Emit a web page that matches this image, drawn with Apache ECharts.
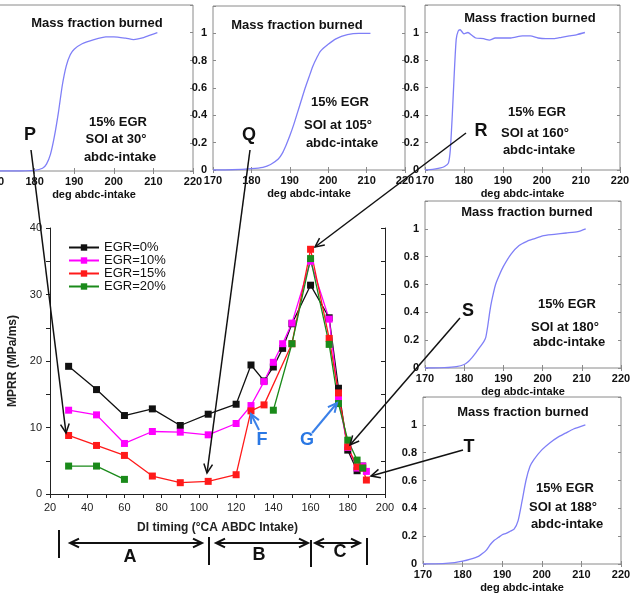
<!DOCTYPE html>
<html>
<head>
<meta charset="utf-8">
<script src="https://cdn.jsdelivr.net/npm/echarts@6/dist/echarts.min.js"></script>
<style>
  html, body { margin: 0; padding: 0; background: #fff; }
  #main { width: 631px; height: 596px; }
</style>
</head>
<body>
<div id="main"></div>
<script>
// MPRR against DI timing, one line per EGR rate
var egr0X = [30, 45, 60, 75, 90, 105, 120, 128, 135, 140, 145, 150, 160, 170, 175, 180, 185, 188];
var egr0Y = [19.2, 15.7, 11.8, 12.8, 10.3, 12.0, 13.5, 19.4, 17.0, 19.1, 21.9, 25.6, 31.4, 26.5, 15.9, 6.6, 3.5, 4.2];
var egr10X = [30, 45, 60, 75, 90, 105, 120, 128, 135, 140, 145, 150, 160, 170, 175, 180, 185, 188, 190];
var egr10Y = [12.6, 11.9, 7.6, 9.4, 9.3, 8.9, 10.6, 13.3, 16.9, 19.8, 22.6, 25.7, 35.0, 26.3, 14.4, 7.0, 3.9, 4.2, 3.4];
var egr15X = [30, 45, 60, 75, 90, 105, 120, 128, 135, 150, 160, 170, 175, 180, 185, 188, 190];
var egr15Y = [8.8, 7.3, 5.8, 2.7, 1.7, 1.9, 2.9, 12.5, 13.4, 22.6, 36.8, 23.4, 15.2, 7.1, 4.1, 3.9, 2.1];
// gap between 60 and 140 (no runs)
var egr20X = [30, 45, 60, 100, 140, 150, 160, 170, 175, 180, 185, 188];
var egr20Y = [4.2, 4.2, 2.2, '-', 12.6, 22.6, 35.4, 22.5, 13.6, 8.1, 5.1, 3.9];

var legendNames = ['EGR=0%', 'EGR=10%', 'EGR=15%', 'EGR=20%'];

// mass fraction burned curves, 15% EGR, for each start of injection
var degP = [170, 175, 180, 182, 183, 184, 185, 186, 187, 188, 189, 190, 192, 195, 198, 200, 203, 205, 207, 209, 211];
var mfbP = [0, 0, 0.005, 0.02, 0.05, 0.12, 0.25, 0.42, 0.62, 0.76, 0.84, 0.88, 0.92, 0.95, 0.97, 0.97, 0.96, 0.95, 0.96, 0.98, 1.0];
var degQ = [170, 175, 180, 183, 185, 187, 188, 189, 190, 191, 192, 193, 194, 195, 196, 197, 198, 200, 202, 205, 208, 211];
var mfbQ = [0, 0.002, 0.01, 0.02, 0.04, 0.08, 0.12, 0.18, 0.25, 0.33, 0.42, 0.51, 0.6, 0.68, 0.76, 0.82, 0.87, 0.92, 0.96, 0.99, 1.0, 1.0];
var degR = [170, 172, 174, 175, 176, 176.5, 177, 177.5, 178, 178.5, 179, 180, 181, 182, 183, 185, 186.5, 188, 190, 192, 195, 197, 199, 201, 203, 205, 207, 209, 211];
var mfbR = [0, 0.005, 0.015, 0.025, 0.05, 0.15, 0.4, 0.7, 0.95, 1.01, 1.02, 0.99, 1.0, 0.98, 0.96, 0.955, 0.945, 0.96, 0.96, 0.96, 0.975, 0.975, 0.96, 0.955, 0.955, 0.965, 0.975, 0.985, 1.0];
var degS = [170, 172, 175, 178, 180, 181, 182, 183, 184, 185, 185.5, 186, 186.5, 187, 188, 189, 190, 192, 194, 196, 198, 200, 203, 206, 209, 211];
var mfbS = [0, 0, 0.002, 0.01, 0.025, 0.045, 0.075, 0.11, 0.15, 0.19, 0.22, 0.3, 0.4, 0.48, 0.6, 0.67, 0.73, 0.82, 0.88, 0.91, 0.93, 0.95, 0.96, 0.97, 0.98, 1.0];
var degT = [170, 175, 178, 180, 182, 184, 185, 186, 187, 188, 189, 190, 191, 192, 193, 194, 195, 196, 197, 198, 200, 202, 204, 206, 208, 211];
var mfbT = [0, 0.003, 0.01, 0.02, 0.035, 0.055, 0.075, 0.1, 0.14, 0.17, 0.19, 0.21, 0.22, 0.235, 0.25, 0.31, 0.45, 0.6, 0.7, 0.75, 0.82, 0.87, 0.91, 0.94, 0.97, 1.0];
var soiLabels = ['SOI at 30°', 'SOI at 105°', 'SOI at 160°', 'SOI at 180°', 'SOI at 188°'];

function pairs(xs, ys) {
  return xs.map(function (x, i) { return [x, ys[i]]; });
}

var FONT = '"Liberation Sans", Arial, sans-serif';
var myChart = echarts.init(document.getElementById('main'));

var grids = [{ left: 50, right: 246, top: 228, bottom: 102, outerBoundsMode: 'none' }];
var xAxes = [
  {
    gridIndex: 0, type: 'value', min: 20, max: 200, interval: 10,
    axisLine: { lineStyle: { color: '#222' } },
    axisTick: { length: 4, lineStyle: { color: '#222' } },
    axisLabel: {
      margin: 8, fontSize: 11, color: '#222', fontFamily: FONT,
      formatter: function (v) { return v % 20 === 0 ? v : ''; }
    },
    splitLine: { show: false },
    name: 'DI timing (°CA ABDC Intake)', nameLocation: 'middle', nameGap: 28,
    nameTextStyle: { fontSize: 12, fontWeight: 'bold', color: '#222', fontFamily: FONT }
  },
  {
    gridIndex: 0, type: 'value', position: 'top', min: 20, max: 200, interval: 10,
    axisLine: { lineStyle: { color: '#222' } },
    axisTick: { inside: true, length: 4, lineStyle: { color: '#222' } },
    axisLabel: { show: false }, splitLine: { show: false }
  }
];
var yAxes = [
  {
    gridIndex: 0, type: 'value', min: 0, max: 40, interval: 5,
    axisLine: { show: true, lineStyle: { color: '#222' } },
    axisTick: { show: true, length: 4, lineStyle: { color: '#222' } },
    axisLabel: {
      margin: 8, fontSize: 11, color: '#222', fontFamily: FONT,
      formatter: function (v) { return v % 10 === 0 ? v : ''; }
    },
    splitLine: { show: false },
    name: 'MPRR (MPa/ms)', nameLocation: 'middle', nameGap: 28,
    nameTextStyle: { fontSize: 12, fontWeight: 'bold', color: '#222', fontFamily: FONT }
  },
  {
    gridIndex: 0, type: 'value', position: 'right', min: 0, max: 40, interval: 5,
    axisLine: { show: true, lineStyle: { color: '#222' } },
    axisTick: { show: true, inside: true, length: 4, lineStyle: { color: '#222' } },
    axisLabel: { show: false }, splitLine: { show: false }
  }
];

var lineColors = ['#111111', '#ff00ff', '#ff1a1a', '#1a8a1a'];
var mainData = [pairs(egr0X, egr0Y), pairs(egr10X, egr10Y), pairs(egr15X, egr15Y), pairs(egr20X, egr20Y)];
var series = mainData.map(function (d, i) {
  return {
    name: legendNames[i], type: 'line', xAxisIndex: 0, yAxisIndex: 0,
    data: d, symbol: 'rect', symbolSize: 7, connectNulls: false,
    lineStyle: { color: lineColors[i], width: 1.3 },
    itemStyle: { color: lineColors[i] }
  };
});

// inset boxes (mass fraction burned)
var insetBoxes = [
  { left: -5, top: 5, width: 198, height: 166 },
  { left: 213, top: 6, width: 192, height: 164 },
  { left: 425, top: 5, width: 195, height: 165 },
  { left: 425, top: 201, width: 196, height: 167 },
  { left: 423, top: 397, width: 198, height: 167 }
];
var insetData = [pairs(degP, mfbP), pairs(degQ, mfbQ), pairs(degR, mfbR), pairs(degS, mfbS), pairs(degT, mfbT)];
var tickStyle = { color: '#8a8a8a' };
var insetLabel = { fontSize: 11, fontWeight: 'bold', color: '#111', fontFamily: FONT };

insetBoxes.forEach(function (b, i) {
  var g = i + 1;
  grids.push({
    left: b.left, top: b.top, width: b.width, height: b.height, outerBoundsMode: 'none',
    show: true, borderColor: '#8a8a8a', borderWidth: 1
  });
  xAxes.push({
    gridIndex: g, type: 'value', min: 170, max: 220, interval: 10,
    axisLine: { show: false }, axisTick: { inside: true, length: 3, lineStyle: tickStyle },
    axisLabel: Object.assign({ margin: 5 }, insetLabel), splitLine: { show: false },
    name: 'deg abdc-intake', nameLocation: 'middle', nameGap: 18, nameTextStyle: insetLabel
  });
  xAxes.push({
    gridIndex: g, type: 'value', position: 'top', min: 170, max: 220, interval: 10,
    axisLine: { show: false }, axisTick: { inside: true, length: 3, lineStyle: tickStyle },
    axisLabel: { show: false }, splitLine: { show: false }
  });
  yAxes.push({
    gridIndex: g, type: 'value', min: 0, max: 1.2, interval: 0.2,
    axisLine: { show: false }, axisTick: { show: true, inside: true, length: 3, lineStyle: tickStyle },
    axisLabel: Object.assign({
      margin: 6,
      formatter: function (v) { var r = Math.round(v * 10) / 10; return r > 1 ? '' : String(r); }
    }, insetLabel),
    splitLine: { show: false }
  });
  yAxes.push({
    gridIndex: g, type: 'value', position: 'right', min: 0, max: 1.2, interval: 0.2,
    axisLine: { show: false }, axisTick: { show: true, inside: true, length: 3, lineStyle: tickStyle },
    axisLabel: { show: false }, splitLine: { show: false }
  });
  series.push({
    type: 'line', xAxisIndex: 2 * g, yAxisIndex: 2 * g, data: insetData[i],
    showSymbol: false, smooth: 0.2, silent: true,
    lineStyle: { color: '#7f7ff7', width: 1.3 }
  });
});

// annotation helpers
function arrow(x1, y1, x2, y2, color, width, both) {
  var out = [{ type: 'line', shape: { x1: x1, y1: y1, x2: x2, y2: y2 }, style: { stroke: color, lineWidth: width }, z: 100 }];
  function head(xa, ya, xb, yb) {
    var a = Math.atan2(yb - ya, xb - xa), L = 10, s = 0.45;
    out.push({
      type: 'polyline', z: 100,
      shape: { points: [[xb - L * Math.cos(a - s), yb - L * Math.sin(a - s)], [xb, yb], [xb - L * Math.cos(a + s), yb - L * Math.sin(a + s)]] },
      style: { stroke: color, lineWidth: width, fill: null }
    });
  }
  head(x1, y1, x2, y2);
  if (both) head(x2, y2, x1, y1);
  return out;
}
function txt(x, y, s, font, color) {
  return { type: 'text', x: x, y: y, z: 101, style: { text: s, font: font, fill: color || '#111', align: 'center', verticalAlign: 'middle' } };
}
function vbar(x, y1, y2) {
  return { type: 'line', z: 100, shape: { x1: x, y1: y1, x2: x, y2: y2 }, style: { stroke: '#111', lineWidth: 2 } };
}

var bold13 = 'bold 13px ' + FONT;
var letter = 'bold 18px ' + FONT;
var graphics = [];
var titlePos = [[97, 23], [297, 25], [530, 18], [527, 212], [523, 412]];
var notePos = [[118, 122, 139, 157], [340, 102, 125, 143], [537, 112, 133, 150], [567, 304, 327, 342], [565, 488, 507, 524]];
titlePos.forEach(function (p) { graphics.push(txt(p[0], p[1], 'Mass fraction burned', bold13)); });
notePos.forEach(function (p, i) {
  graphics.push(txt(p[0], p[1], '15% EGR', bold13));
  graphics.push(txt(p[0] - 2, p[2], soiLabels[i], bold13));
  graphics.push(txt(p[0] + 2, p[3], 'abdc-intake', bold13));
});
graphics.push(txt(30, 135, 'P', letter), txt(249, 135, 'Q', letter), txt(481, 131, 'R', letter),
  txt(468, 311, 'S', letter), txt(469, 447, 'T', letter));
graphics.push(txt(262, 440, 'F', letter, '#2a78e4'), txt(307, 440, 'G', letter, '#2a78e4'));
graphics = graphics.concat(
  arrow(31, 150, 66, 433, '#111', 1.5),
  arrow(250, 150, 207, 473, '#111', 1.5),
  arrow(466, 133, 315, 247, '#111', 1.5),
  arrow(460, 318, 350, 445, '#111', 1.5),
  arrow(463, 450, 371, 476, '#111', 1.5),
  arrow(259, 430, 251, 414, '#3a80e8', 2),
  arrow(312, 433, 337, 403, '#3a80e8', 2),
  arrow(70, 543, 202, 543, '#111', 2, true),
  arrow(216, 543, 308, 543, '#111', 2, true),
  arrow(315, 543, 360, 543, '#111', 2, true)
);
graphics.push(vbar(59, 530, 558), vbar(209, 537, 565), vbar(311, 540, 567), vbar(367, 538, 565));
graphics.push(txt(130, 557, 'A', letter), txt(259, 555, 'B', letter), txt(340, 552, 'C', letter));

myChart.setOption({
  animation: false,
  backgroundColor: '#fff',
  textStyle: { fontFamily: FONT },
  grid: grids,
  xAxis: xAxes,
  yAxis: yAxes,
  legend: {
    data: legendNames, orient: 'vertical', left: 68, top: 241, padding: 0,
    itemWidth: 30, itemHeight: 8, itemGap: 0,
    textStyle: { fontSize: 13, lineHeight: 12, color: '#111', fontFamily: FONT }
  },
  series: series,
  graphic: graphics
});
</script>
</body>
</html>
